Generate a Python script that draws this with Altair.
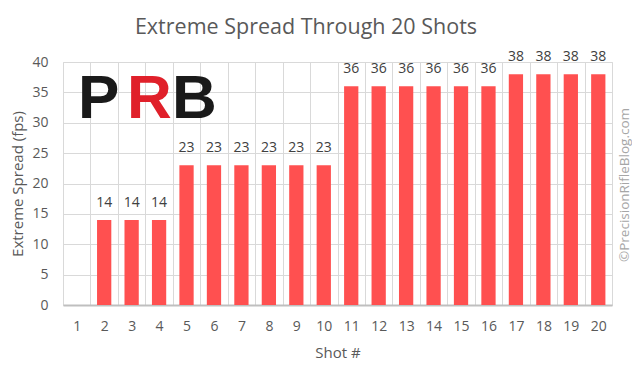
import altair as alt
import pandas as pd

shots = list(range(1, 21))
spread = [0, 14, 14, 14, 23, 23, 23, 23, 23, 23, 36, 36, 36, 36, 36, 36, 38, 38, 38, 38]
y_ticks = [0, 5, 10, 15, 20, 25, 30, 35, 40]

title_text = "Extreme Spread Through 20 Shots"
x_title = "Shot #"
y_title = "Extreme Spread (fps)"
watermark = "©PrecisionRifleBlog.com"

df = pd.DataFrame({"Shot": shots, "Spread": spread})

FONT = "Open Sans"
GRAY = "#595959"
BAR = "#FF5050"

x = alt.X(
    "Shot:O",
    title=x_title,
    scale=alt.Scale(paddingInner=0, paddingOuter=0),
    axis=alt.Axis(
        labelAngle=0,
        ticks=False,
        grid=True,
        tickBand="extent",
        gridColor="#d9d9d9",
        domainColor="#bfbfbf",
        domainWidth=2,
        labelFontSize=14,
        labelColor=GRAY,
        labelFont=FONT,
        labelPadding=14,
        titleFontSize=15,
        titleFont=FONT,
        titleColor=GRAY,
        titleFontWeight="normal",
        titlePadding=12,
    ),
)
y = alt.Y(
    "Spread:Q",
    title=y_title,
    scale=alt.Scale(domain=[0, 40], nice=False),
    axis=alt.Axis(
        values=y_ticks,
        tickCount=9,
        labelOverlap=False,
        domain=False,
        ticks=False,
        gridColor="#d9d9d9",
        labelFontSize=14,
        labelColor=GRAY,
        labelFont=FONT,
        labelPadding=15,
        titleFontSize=15,
        titleFont=FONT,
        titleColor=GRAY,
        titleFontWeight="normal",
        titlePadding=6,
    ),
)

base = alt.Chart(df)
bars = base.mark_bar(width={"band": 0.52}, color=BAR).encode(x=x, y=y)
labels = base.transform_filter("datum.Spread > 0").mark_text(
    baseline="middle", dy=-17, fontSize=14, font=FONT, color="#404040"
).encode(x=x, y=y, text="Spread:Q")

one = alt.Data(values=[{}])
title = alt.Chart(one).mark_text(
    text=title_text, font=FONT, fontSize=21.5, color=GRAY, align="center", baseline="alphabetic"
).encode(x=alt.value(243), y=alt.value(-28))
wm = alt.Chart(one).mark_text(
    text=watermark, font=FONT, fontSize=13.5, color="#a6a6a6", angle=270, align="center", baseline="middle"
).encode(x=alt.value(562), y=alt.value(123))
logo_kw = dict(font="Liberation Sans", fontWeight="bold", fontSize=62, align="left", baseline="alphabetic")
logo_p = alt.Chart(one).mark_text(text="P", color="#1a1a1a", **logo_kw).encode(x=alt.value(15), y=alt.value(56))
logo_r = alt.Chart(one).mark_text(text="R", color="#e0202a", **logo_kw).encode(x=alt.value(64), y=alt.value(56))
logo_b = alt.Chart(one).mark_text(text="B", color="#1a1a1a", **logo_kw).encode(x=alt.value(109), y=alt.value(56))

chart = alt.layer(bars, labels, logo_p, logo_r, logo_b, title, wm).properties(
    width=549,
    height=243,
    autosize=alt.AutoSizeParams(type="none"),
    padding={"left": 55, "top": 54, "right": 20, "bottom": 56},
).configure_view(stroke=None).configure(background="white")

chart.save("out.html", embed_options={"renderer": "svg", "actions": False})
